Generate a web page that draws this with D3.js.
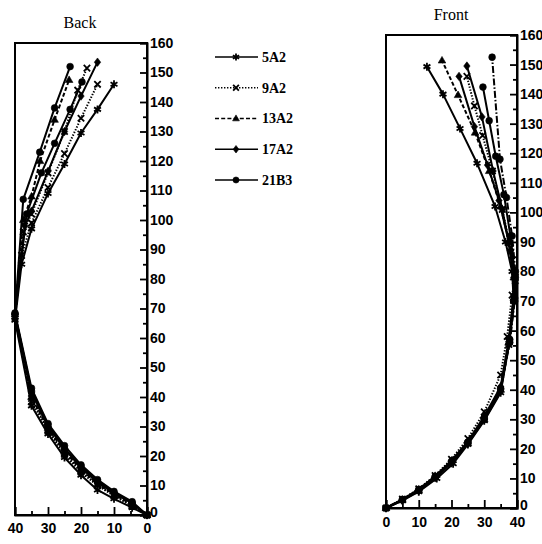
<!DOCTYPE html>
<html><head><meta charset="utf-8">
<script src="https://cdn.jsdelivr.net/npm/d3@7"></script>
<style>
html,body{margin:0;padding:0;background:#fff;}
svg{display:block;}
</style></head>
<body>
<svg id="chart" width="542" height="544"></svg>
<script>
// ---- data ----
const series = ["5A2", "9A2", "13A2", "17A2", "21B3"];
const panelTitles = ["Back", "Front"];
const yTicks = [0,10,20,30,40,50,60,70,80,90,100,110,120,130,140,150,160];
const xTicks = [0,10,20,30,40];

// Back panel lines: [depth, height]
const back_5A2  = [[0,0],[4.5,2.5],[10,5.5],[15,8.5],[20,13.5],[25,19.5],[30,27.5],[35,37],[40,66],[38,85],[35,97],[30,109],[25,119],[20,129.5],[15,137.5],[10,146]];
const back_9A2  = [[0,0],[4.5,3],[10,6.5],[15,10],[20,14.5],[25,20.5],[30,28.5],[35,38.5],[40,67],[38,88],[35,99],[30,111],[25,122.5],[20,134.5],[15,146]];
const back_9A2b = [[0,0],[4.5,3.2],[10,6.8],[15,10.2],[20,15],[25,21],[30,29],[35,39.5],[40,67.5],[37.5,96],[35,102],[30,116],[25,130],[21,144],[18.2,151.5]];
const back_13A2 = [[0,0],[4.5,3.5],[10,7],[15,10.5],[20,15.5],[25,21.5],[30,29.5],[35,40],[40,68],[37.5,100],[35,108],[32.4,120],[28,134],[23.6,147.5]];
const back_17A2 = [[0,0],[4.5,4],[10,7.5],[15,11],[20,16],[25,22.5],[30,30],[35,41.5],[40,68],[37,98],[35,103],[30,116.5],[25,130],[20,142],[15,153.5]];
const back_21B3 = [[0,0],[4.5,4.5],[10,8],[15,12],[20,17],[25,23.5],[30,31],[35,43],[40,68.5],[37.5,107],[32.5,123],[28,138],[23.3,152]];
const back_21B3b= [[0,0],[4.5,4],[10,7.5],[15,11.5],[20,16.5],[25,22.5],[30,30.5],[35,42],[40,68],[36.5,102],[32,116],[28,126],[23.3,137.5],[19.7,146.8]];

// Front panel lines
const front_5A2  = [[0,0],[5,2.5],[10,5.5],[15.5,10],[20.5,15],[25,21.5],[30,29.5],[35,39],[37.5,55],[39,70],[38.5,80],[36.5,90],[33.3,102],[27.8,116.6],[22.6,128.4],[17.4,140],[12.5,149.3]];
const front_9A2  = [[0,0],[5,3],[10,6.5],[15,11],[20,16.5],[25,23.5],[30,32.5],[35,45],[37,58],[38.5,72],[39.5,78],[38,88],[35.5,101],[32.5,114],[29.5,126],[27,136],[24.7,146]];
const front_13A2 = [[0,0],[5,2.8],[10,6],[15,10.5],[20,15.5],[25,22],[30,30],[35,40],[37.5,56],[39,71],[39,78],[37.5,90],[35,102],[31.5,114],[27.2,127],[22,139.7],[17.1,151.4]];
const front_17A2 = [[0,0],[5,2.7],[10,6.2],[15,10.8],[20,16],[25,22.5],[30,31],[35,41],[37.5,57],[39,72],[39.5,76],[38,87],[35.5,101],[32.7,114],[29.3,132.3],[24.7,149.5]];
const front_17A2b= [[0,0],[5,2.6],[10,5.8],[15,10.2],[20,15.2],[25,21.8],[30,29.8],[35,39.5],[37.5,55.5],[39,70.5],[39,78],[37.5,90],[34.5,104],[31,116],[27,129],[22.3,146]];
const front_21B3 = [[0,0],[5,2.9],[10,6.3],[15,10.6],[20,15.8],[25,22.3],[30,30.5],[35,40.5],[37.8,57],[39.3,71],[39.5,78],[38,92],[36,106],[33.5,119],[31.5,131],[29.6,142.4]];
const front_21B3b= [[0,0],[5,2.7],[10,6],[15,10.4],[20,15.4],[25,22],[30,30.2],[35,40.2],[37.8,56],[39.3,70],[39.5,80],[38.5,92],[36.8,105],[34.8,118],[32.4,152.5]];

const backLines = [
  {s:"5A2", pts:back_5A2}, {s:"9A2", pts:back_9A2}, {s:"9A2", pts:back_9A2b},
  {s:"13A2", pts:back_13A2}, {s:"17A2", pts:back_17A2},
  {s:"21B3", pts:back_21B3}, {s:"21B3", pts:back_21B3b}
];
const frontLines = [
  {s:"5A2", pts:front_5A2}, {s:"9A2", pts:front_9A2}, {s:"13A2", pts:front_13A2},
  {s:"17A2", pts:front_17A2}, {s:"17A2", pts:front_17A2b},
  {s:"21B3", pts:front_21B3}, {s:"21B3", pts:front_21B3b, dashOverride:"7,2,1.5,2"}
];

// ---- styles ----
const dashOf = {"5A2":null, "9A2":"1.4,1.6", "13A2":"4,2.2", "17A2":null, "21B3":null};
const symOf = {"5A2":"asterisk", "9A2":"times", "13A2":"triangle", "17A2":"diamond", "21B3":"circle"};

const svg = d3.select("#chart");

function markerPath(kind, r){
  const p = d3.path();
  if(kind==="asterisk"){
    for(let i=0;i<3;i++){const a=Math.PI/3*i+Math.PI/2; p.moveTo(r*Math.cos(a),r*Math.sin(a)); p.lineTo(-r*Math.cos(a),-r*Math.sin(a));}
  } else if(kind==="times"){
    p.moveTo(-r*.8,-r*.8);p.lineTo(r*.8,r*.8);p.moveTo(r*.8,-r*.8);p.lineTo(-r*.8,r*.8);
  } else if(kind==="triangle"){
    p.moveTo(0,-r);p.lineTo(r*.95,r*.65);p.lineTo(-r*.95,r*.65);p.closePath();
  } else if(kind==="diamond"){
    p.moveTo(0,-r*1.05);p.lineTo(r*.8,0);p.lineTo(0,r*1.05);p.lineTo(-r*.8,0);p.closePath();
  } else {
    p.arc(0,0,r*.85,0,Math.PI*2);
  }
  return p.toString();
}
function drawMarker(g, kind, x, y, r){
  const filled = (kind==="triangle"||kind==="diamond"||kind==="circle");
  g.append("path").attr("d", markerPath(kind,r)).attr("transform",`translate(${x},${y})`)
   .attr("fill", filled?"#000":"none").attr("stroke","#000").attr("stroke-width", filled?0.6:1.8);
}

function panel(cfg){
  const {x, y, lines, title, titleX, titleY, labelDy} = cfg;
  const g = svg.append("g");
  const [x0,x1] = x.range(); const [yb,yt] = y.range();
  const left = Math.min(x0,x1), right = Math.max(x0,x1);
  // frame
  g.append("rect").attr("x",left).attr("y",yt).attr("width",right-left).attr("height",yb-yt)
   .attr("fill","none").attr("stroke","#000").attr("stroke-width",2);
  // y axis (right side, ticks inward)
  const ya = g.append("g").attr("transform",`translate(${right},0)`)
    .call(d3.axisRight(y).tickValues(yTicks).tickSize(-7).tickPadding(3).tickFormat(d3.format("d")));
  ya.selectAll(".tick text").filter(d=>d===0).attr("dy","0.1em");
  g.append("g").attr("transform",`translate(${right},0)`)
    .call(d3.axisRight(y).tickValues(d3.range(5,160,10)).tickSize(-4).tickFormat(""))
    .call(a=>a.select(".domain").remove());
  // x axis bottom, ticks inward
  const xa = g.append("g").attr("transform",`translate(0,${yb})`)
    .call(d3.axisBottom(x).tickValues(xTicks).tickSize(-8).tickPadding(5).tickFormat(d3.format("d")));
  g.append("g").attr("transform",`translate(0,${yb})`)
    .call(d3.axisBottom(x).tickValues([5,15,25,35]).tickSize(-4).tickFormat(""))
    .call(a=>a.select(".domain").remove());
  g.selectAll(".domain").attr("stroke-width",2);
  g.selectAll(".tick line").attr("stroke","#000").attr("stroke-width",1.8);
  g.selectAll(".tick text").attr("font-family","'Liberation Sans', Arial, sans-serif")
    .attr("font-weight","bold").attr("font-size",14).attr("fill","#000");
  xa.selectAll(".tick text").attr("dy", labelDy);
  // title
  svg.append("text").attr("x",titleX).attr("y",titleY).attr("text-anchor","middle")
    .attr("font-family","'Liberation Serif', 'Times New Roman', serif").attr("font-size",16)
    .text(title);
  // lines
  const line = d3.line().x(d=>x(d[0])).y(d=>y(d[1]));
  lines.forEach(L=>{
    g.append("path").attr("d", line(L.pts)).attr("fill","none").attr("stroke","#000")
     .attr("stroke-width",2).attr("stroke-linejoin","round")
     .attr("stroke-dasharray", L.dashOverride || dashOf[L.s]);
    L.pts.forEach(p=>drawMarker(g, symOf[L.s], x(p[0]), y(p[1]), 4));
  });
}

panel({
  x: d3.scaleLinear().domain([40,0]).range([15,147]),
  y: d3.scaleLinear().domain([0,160]).range([515,43]),
  lines: backLines, title: panelTitles[0], titleX: 80, titleY: 28, labelDy: "0.95em"
});
panel({
  x: d3.scaleLinear().domain([0,40]).range([386,517]),
  y: d3.scaleLinear().domain([0,160]).range([508,35]),
  lines: frontLines, title: panelTitles[1], titleX: 451, titleY: 20, labelDy: "1.0em"
});

// legend
const ly = d3.scalePoint().domain(series).range([57,180]);
const lg = svg.append("g");
series.forEach(s=>{
  const yy = ly(s);
  lg.append("line").attr("x1",215).attr("x2",258).attr("y1",yy).attr("y2",yy)
    .attr("stroke","#000").attr("stroke-width",1.6).attr("stroke-dasharray",dashOf[s]);
  drawMarker(lg, symOf[s], 236, yy, 3.6);
  lg.append("text").attr("x",262).attr("y",yy).attr("dy","0.35em")
    .attr("font-family","'Liberation Serif', 'Times New Roman', serif").attr("font-weight","bold")
    .attr("font-size",14).text(s);
});
</script>
</body></html>
